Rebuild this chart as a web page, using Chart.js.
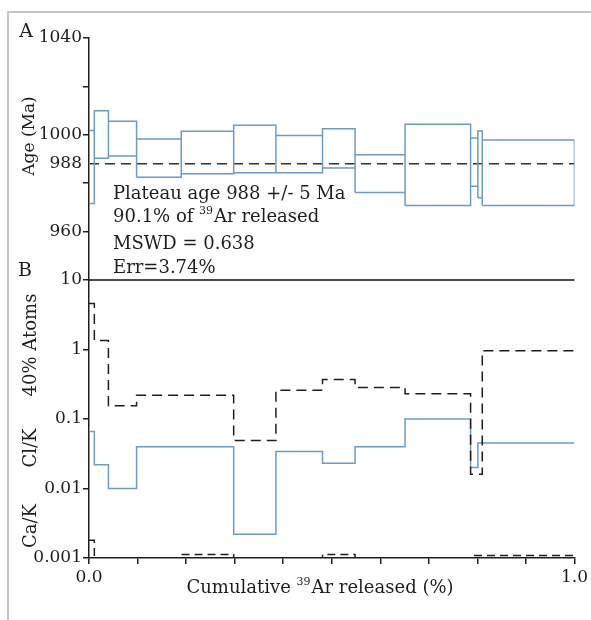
<!DOCTYPE html>
<html lang="en">
<head>
<meta charset="UTF-8">
<title>Age spectrum</title>
<script src="https://cdn.jsdelivr.net/npm/chart.js"></script>
<style>
  html, body { margin: 0; padding: 0; background: #fff; }
  #wrap { width: 591px; height: 620px; }
</style>
</head>
<body>
<div id="wrap"><canvas id="myChart" width="591" height="620"></canvas></div>

<script>
// step edges, cumulative 39Ar released (fraction)
const steps = [0, 0.011, 0.040, 0.098, 0.190, 0.298, 0.385, 0.481, 0.548, 0.651, 0.786, 0.801, 0.810, 1.0];

// panel A : apparent age and error per step (Ma)
const ages = [986.7, 1000.1, 998.4, 990.4, 992.7, 994.1, 992.0, 994.4, 984.0, 987.6, 988.7, 987.8, 984.3];
const errs = [15.1, 9.8, 7.2, 7.9, 8.8, 9.8, 7.7, 8.1, 7.8, 16.8, 10.0, 13.8, 13.5];
const plateauAge = 988;

// panel B : per step ratios (values under 0.001 fall off the axis)
const atoms40 = [4.6, 1.35, 0.155, 0.22, 0.22, 0.049, 0.26, 0.37, 0.285, 0.23, 0.016, 0.016, 0.96];
const clK = [0.066, 0.022, 0.010, 0.040, 0.040, 0.0022, 0.034, 0.023, 0.040, 0.10, 0.020, 0.045, 0.045];
const caK = [0.0018, 0.0004, 0.0004, 0.0004, 0.00112, 0.0004, 0.0004, 0.00112, 0.0004, 0.0004, 0.00109, 0.00109, 0.00109];

// tick labels
const ageTicks = [960, 980, 988, 1000, 1020, 1040];
const ageHidden = [980, 1020];
const logTicks = [0.001, 0.01, 0.1, 1, 10];

// texts, [text, superscript?] pieces
const plateauLines = [
    [['Plateau age 988 +/- 5 Ma']],
    [['90.1% of '], ['39', true], ['Ar released']],
    [['MSWD = 0.638']],
    [['Err=3.74%']]
];
const xTitle = [['Cumulative '], ['39', true], ['Ar released (%)']];

const FONT = 'DejaVu Serif';
const BLUE = '#6d9cc3';
const INK = '#1e1e1e';
</script>

<script>
// box for every step : x0,lo -> x0,hi -> x1,hi -> x1,lo -> x0,lo
const boxPts = [];
for (let i = 0; i < ages.length; i++) {
    const x0 = steps[i], x1 = steps[i + 1];
    const lo = ages[i] - errs[i], hi = ages[i] + errs[i];
    boxPts.push({x: x0, y: lo}, {x: x0, y: hi}, {x: x1, y: hi}, {x: x1, y: lo}, {x: x0, y: lo}, {x: x1, y: null});
}

// stair line from per step values
const stepPts = (vals) => {
    const p = [];
    vals.forEach((v, i) => { p.push({x: steps[i], y: v}, {x: steps[i + 1], y: v}); });
    return p;
};

const near = (a, b) => Math.abs(a - b) < 1e-9;

// write pieces with superscripts, align 'left' or 'center'
const richText = (c, parts, x, y, size, align) => {
    const big = size + 'px "' + FONT + '"';
    const small = Math.round(size * 0.62) + 'px "' + FONT + '"';
    let w = 0;
    parts.forEach(p => { c.font = p[1] ? small : big; w += c.measureText(p[0]).width + (p[1] ? 1 : 0); });
    let cx = align === 'center' ? x - w / 2 : x;
    c.textAlign = 'left';
    c.textBaseline = 'alphabetic';
    parts.forEach(p => {
        c.font = p[1] ? small : big;
        c.fillText(p[0], cx, p[1] ? y - size * 0.42 : y);
        cx += c.measureText(p[0]).width + (p[1] ? 1 : 0);
    });
};

// frame, panel separator and all the loose text
const decor = {
    id: 'decor',
    beforeDraw(chart) {
        const c = chart.ctx;
        c.save();
        c.strokeStyle = '#b4b4b4';
        c.lineWidth = 1.5;
        c.beginPath();
        c.moveTo(8, 620); c.lineTo(8, 12); c.lineTo(591, 12);
        c.stroke();
        c.restore();
    },
    afterDraw(chart) {
        const c = chart.ctx;
        const a = chart.chartArea;
        const yB = chart.scales.yB;
        c.save();
        c.strokeStyle = '#111';
        c.lineWidth = 1.5;
        c.beginPath();
        c.moveTo(a.left, yB.top); c.lineTo(a.right, yB.top);
        c.stroke();

        c.fillStyle = INK;
        c.font = '19px "' + FONT + '"';
        c.textAlign = 'center';
        c.textBaseline = 'middle';
        c.fillText('A', 26, 32);
        c.fillText('B', 25, 271);

        c.font = '17px "' + FONT + '"';
        const rot = (t, x, y) => {
            c.save(); c.translate(x, y); c.rotate(-Math.PI / 2); c.fillText(t, 0, 0); c.restore();
        };
        rot('Age (Ma)', 30, 136);
        c.font = '18px "' + FONT + '"';
        rot('40% Atoms', 31, 345);
        rot('Cl/K', 31, 448);
        rot('Ca/K', 31, 526);

        richText(c, xTitle, 320, 593, 18, 'center');

        const base = [199, 222, 249, 273];
        plateauLines.forEach((t, i) => richText(c, t, 113, base[i], 18, 'left'));
        c.restore();
    }
};

const tickFont = {family: FONT, size: 17};

new Chart(document.getElementById('myChart').getContext('2d'), {
    type: 'line',
    data: {
        datasets: [
            {data: boxPts, yAxisID: 'yA', borderColor: BLUE, borderWidth: 1.5, pointRadius: 0, spanGaps: false},
            {data: [{x: 0, y: plateauAge}, {x: 1, y: plateauAge}], yAxisID: 'yA', borderColor: '#333',
             borderWidth: 1.5, borderDash: [10, 6], pointRadius: 0},
            {data: stepPts(atoms40), yAxisID: 'yB', borderColor: INK, borderWidth: 1.5, borderDash: [10, 6], pointRadius: 0},
            {data: stepPts(clK), yAxisID: 'yB', borderColor: BLUE, borderWidth: 1.5, pointRadius: 0},
            {data: stepPts(caK), yAxisID: 'yB', borderColor: INK, borderWidth: 1.5, borderDash: [8, 5], pointRadius: 0}
        ]
    },
    options: {
        responsive: false,
        animation: false,
        layout: {padding: {top: 38, right: 15, left: 0, bottom: 0}},
        plugins: {legend: {display: false}, tooltip: {enabled: false}},
        scales: {
            x: {
                type: 'linear', min: 0, max: 1,
                border: {color: INK, width: 1.5},
                grid: {drawOnChartArea: false, tickLength: 6, tickColor: INK, lineWidth: 1.5},
                ticks: {
                    stepSize: 0.1, autoSkip: false, maxRotation: 0, padding: 3,
                    font: tickFont, color: INK,
                    callback: (v) => near(v, 0) ? '0.0' : (near(v, 1) ? '1.0' : '')
                },
                afterFit: (s) => { s.height = 62; }
            },
            yB: {
                type: 'logarithmic', position: 'left', stack: 'v', stackWeight: 278,
                min: 0.001, max: 10,
                border: {color: INK, width: 1.5},
                grid: {drawOnChartArea: false, tickLength: 6, tickColor: INK, lineWidth: 1.5},
                afterBuildTicks: (s) => { s.ticks = logTicks.map(v => ({value: v})); },
                ticks: {font: tickFont, color: INK, padding: 1, autoSkip: false, callback: (v) => String(v)},
                afterFit: (s) => { s.width = 89; }
            },
            yA: {
                type: 'linear', position: 'left', stack: 'v', stackWeight: 242,
                min: 940, max: 1040,
                border: {color: INK, width: 1.5},
                grid: {
                    drawOnChartArea: false, tickLength: 6, lineWidth: 1.5,
                    tickColor: (c) => (c.tick && c.tick.value === plateauAge) ? 'rgba(0,0,0,0)' : INK
                },
                afterBuildTicks: (s) => { s.ticks = ageTicks.map(v => ({value: v})); },
                ticks: {
                    font: tickFont, color: INK, padding: 1, autoSkip: false,
                    callback: (v) => ageHidden.includes(v) ? '' : String(v)
                },
                afterFit: (s) => { s.width = 89; }
            }
        }
    },
    plugins: [decor]
});
</script>
</body>
</html>
